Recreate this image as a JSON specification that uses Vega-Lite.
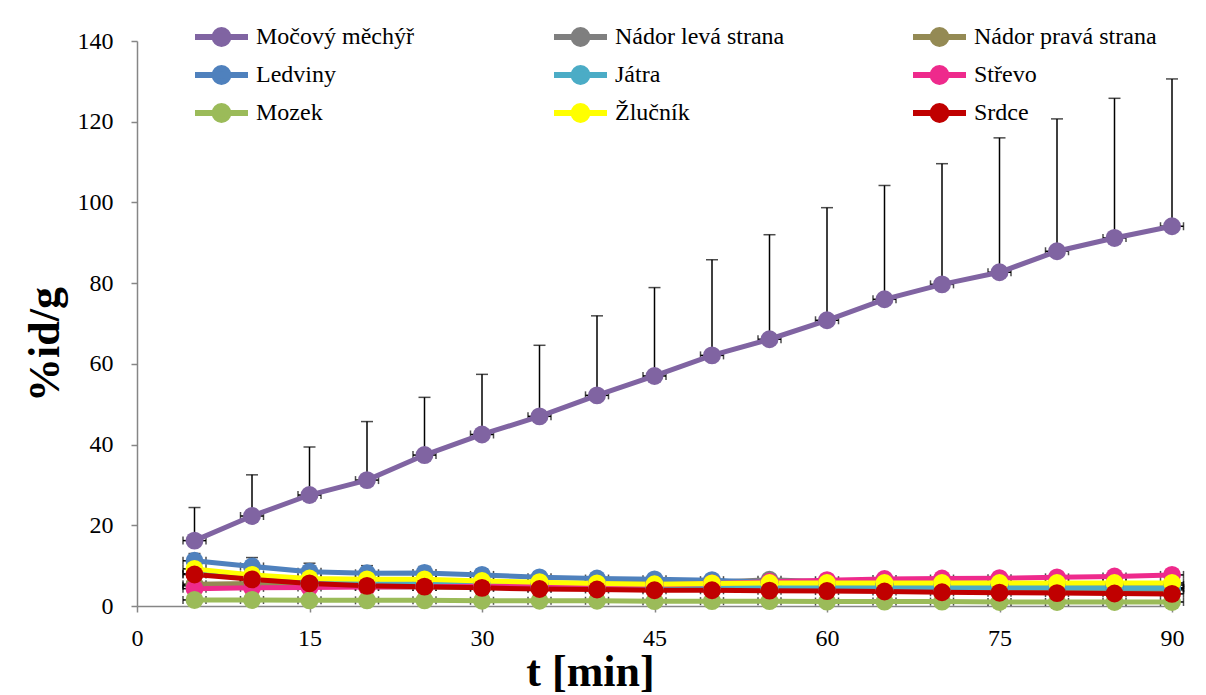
{
"$schema": "https://vega.github.io/schema/vega-lite/v6.json",
"width": 1035, "height": 565,
"autosize": {"type": "none"},
"padding": {"left": 137, "top": 41, "right": 34, "bottom": 89},
"background": "white",
"config": {"view": {"stroke": null}, "font": "Liberation Serif"},
"data": {"values": [
{"s":"Močový měchýř","t":5,"v":16.2,"hi":24.4,"xe":1},{"s":"Močový měchýř","t":10,"v":22.3,"hi":32.5,"xe":1},{"s":"Močový měchýř","t":15,"v":27.5,"hi":39.4,"xe":1},{"s":"Močový měchýř","t":20,"v":31.2,"hi":45.7,"xe":1},{"s":"Močový měchýř","t":25,"v":37.4,"hi":51.7,"xe":1},{"s":"Močový měchýř","t":30,"v":42.5,"hi":57.4,"xe":1},{"s":"Močový měchýř","t":35,"v":47.0,"hi":64.6,"xe":1},{"s":"Močový měchýř","t":40,"v":52.2,"hi":71.9,"xe":1},{"s":"Močový měchýř","t":45,"v":57.0,"hi":78.9,"xe":1},{"s":"Močový měchýř","t":50,"v":62.1,"hi":85.8,"xe":1},{"s":"Močový měchýř","t":55,"v":66.1,"hi":92.0,"xe":1},{"s":"Močový měchýř","t":60,"v":70.8,"hi":98.7,"xe":1},{"s":"Močový měchýř","t":65,"v":76.0,"hi":104.2,"xe":1},{"s":"Močový měchýř","t":70,"v":79.7,"hi":109.6,"xe":1},{"s":"Močový měchýř","t":75,"v":82.7,"hi":116.0,"xe":1},{"s":"Močový měchýř","t":80,"v":87.9,"hi":120.7,"xe":1},{"s":"Močový měchýř","t":85,"v":91.2,"hi":125.8,"xe":1},{"s":"Močový měchýř","t":90,"v":94.1,"hi":130.6,"xe":1},
{"s":"Nádor levá strana","t":5,"v":5.0,"xe":1},{"s":"Nádor levá strana","t":10,"v":5.3,"xe":1},{"s":"Nádor levá strana","t":15,"v":5.3,"xe":1},{"s":"Nádor levá strana","t":20,"v":5.3,"xe":1},{"s":"Nádor levá strana","t":25,"v":5.5,"xe":1},{"s":"Nádor levá strana","t":30,"v":5.5,"xe":1},{"s":"Nádor levá strana","t":35,"v":5.6,"xe":1},{"s":"Nádor levá strana","t":40,"v":5.7,"xe":1},{"s":"Nádor levá strana","t":45,"v":5.8,"xe":1},{"s":"Nádor levá strana","t":50,"v":5.9,"xe":1},{"s":"Nádor levá strana","t":55,"v":6.5,"xe":1},{"s":"Nádor levá strana","t":60,"v":6.0,"xe":1},{"s":"Nádor levá strana","t":65,"v":5.6,"xe":1},{"s":"Nádor levá strana","t":70,"v":5.5,"xe":1},{"s":"Nádor levá strana","t":75,"v":5.4,"xe":1},{"s":"Nádor levá strana","t":80,"v":5.3,"xe":1},{"s":"Nádor levá strana","t":85,"v":5.2,"xe":1},{"s":"Nádor levá strana","t":90,"v":5.2,"xe":1},
{"s":"Nádor pravá strana","t":5,"v":5.4,"xe":1},{"s":"Nádor pravá strana","t":10,"v":5.6,"xe":1},{"s":"Nádor pravá strana","t":15,"v":5.0,"xe":1},{"s":"Nádor pravá strana","t":20,"v":4.8,"xe":1},{"s":"Nádor pravá strana","t":25,"v":4.7,"xe":1},{"s":"Nádor pravá strana","t":30,"v":4.6,"xe":1},{"s":"Nádor pravá strana","t":35,"v":4.5,"xe":1},{"s":"Nádor pravá strana","t":40,"v":4.4,"xe":1},{"s":"Nádor pravá strana","t":45,"v":4.3,"xe":1},{"s":"Nádor pravá strana","t":50,"v":4.3,"xe":1},{"s":"Nádor pravá strana","t":55,"v":4.2,"xe":1},{"s":"Nádor pravá strana","t":60,"v":4.2,"xe":1},{"s":"Nádor pravá strana","t":65,"v":4.1,"xe":1},{"s":"Nádor pravá strana","t":70,"v":4.1,"xe":1},{"s":"Nádor pravá strana","t":75,"v":4.0,"xe":1},{"s":"Nádor pravá strana","t":80,"v":4.0,"xe":1},{"s":"Nádor pravá strana","t":85,"v":4.0,"xe":1},{"s":"Nádor pravá strana","t":90,"v":4.0,"xe":1},
{"s":"Ledviny","t":5,"v":11.2,"hi":13.0,"xe":1},{"s":"Ledviny","t":10,"v":9.8,"hi":12.0,"xe":1},{"s":"Ledviny","t":15,"v":8.5,"hi":10.6,"xe":1},{"s":"Ledviny","t":20,"v":8.1,"hi":10.0,"xe":1},{"s":"Ledviny","t":25,"v":8.2,"hi":9.8,"xe":1},{"s":"Ledviny","t":30,"v":7.7,"hi":9.2,"xe":1},{"s":"Ledviny","t":35,"v":7.1,"hi":8.5,"xe":1},{"s":"Ledviny","t":40,"v":6.8,"hi":8.1,"xe":1},{"s":"Ledviny","t":45,"v":6.6,"hi":7.8,"xe":1},{"s":"Ledviny","t":50,"v":6.4,"hi":7.4,"xe":1},{"s":"Ledviny","t":55,"v":5.8,"hi":7.0,"xe":1},{"s":"Ledviny","t":60,"v":5.5,"hi":6.6,"xe":1},{"s":"Ledviny","t":65,"v":5.3,"hi":6.4,"xe":1},{"s":"Ledviny","t":70,"v":5.1,"hi":6.2,"xe":1},{"s":"Ledviny","t":75,"v":4.9,"hi":6.0,"xe":1},{"s":"Ledviny","t":80,"v":4.7,"hi":5.8,"xe":1},{"s":"Ledviny","t":85,"v":4.6,"hi":5.7,"xe":1},{"s":"Ledviny","t":90,"v":4.5,"hi":5.6,"xe":1},
{"s":"Játra","t":5,"v":8.0,"xe":1},{"s":"Játra","t":10,"v":7.0,"xe":1},{"s":"Játra","t":15,"v":6.1,"xe":1},{"s":"Játra","t":20,"v":5.6,"xe":1},{"s":"Játra","t":25,"v":5.5,"xe":1},{"s":"Játra","t":30,"v":5.2,"xe":1},{"s":"Játra","t":35,"v":5.0,"xe":1},{"s":"Játra","t":40,"v":4.8,"xe":1},{"s":"Játra","t":45,"v":4.7,"xe":1},{"s":"Játra","t":50,"v":4.6,"xe":1},{"s":"Játra","t":55,"v":4.6,"xe":1},{"s":"Játra","t":60,"v":4.5,"xe":1},{"s":"Játra","t":65,"v":4.5,"xe":1},{"s":"Játra","t":70,"v":4.5,"xe":1},{"s":"Játra","t":75,"v":4.5,"xe":1},{"s":"Játra","t":80,"v":4.5,"xe":1},{"s":"Játra","t":85,"v":4.4,"xe":1},{"s":"Játra","t":90,"v":4.4,"xe":1},
{"s":"Střevo","t":5,"v":4.3,"xe":1},{"s":"Střevo","t":10,"v":4.5,"xe":1},{"s":"Střevo","t":15,"v":4.6,"xe":1},{"s":"Střevo","t":20,"v":4.7,"xe":1},{"s":"Střevo","t":25,"v":4.8,"xe":1},{"s":"Střevo","t":30,"v":4.9,"xe":1},{"s":"Střevo","t":35,"v":5.0,"xe":1},{"s":"Střevo","t":40,"v":5.1,"xe":1},{"s":"Střevo","t":45,"v":5.2,"xe":1},{"s":"Střevo","t":50,"v":5.6,"xe":1},{"s":"Střevo","t":55,"v":6.0,"xe":1},{"s":"Střevo","t":60,"v":6.4,"xe":1},{"s":"Střevo","t":65,"v":6.7,"xe":1},{"s":"Střevo","t":70,"v":6.8,"xe":1},{"s":"Střevo","t":75,"v":6.9,"xe":1},{"s":"Střevo","t":80,"v":7.1,"xe":1},{"s":"Střevo","t":85,"v":7.3,"xe":1},{"s":"Střevo","t":90,"v":7.7,"xe":1},
{"s":"Mozek","t":5,"v":1.5,"xe":1},{"s":"Mozek","t":10,"v":1.5,"xe":1},{"s":"Mozek","t":15,"v":1.4,"xe":1},{"s":"Mozek","t":20,"v":1.4,"xe":1},{"s":"Mozek","t":25,"v":1.4,"xe":1},{"s":"Mozek","t":30,"v":1.3,"xe":1},{"s":"Mozek","t":35,"v":1.3,"xe":1},{"s":"Mozek","t":40,"v":1.3,"xe":1},{"s":"Mozek","t":45,"v":1.2,"xe":1},{"s":"Mozek","t":50,"v":1.2,"xe":1},{"s":"Mozek","t":55,"v":1.2,"xe":1},{"s":"Mozek","t":60,"v":1.1,"xe":1},{"s":"Mozek","t":65,"v":1.1,"xe":1},{"s":"Mozek","t":70,"v":1.1,"xe":1},{"s":"Mozek","t":75,"v":1.0,"xe":1},{"s":"Mozek","t":80,"v":1.0,"xe":1},{"s":"Mozek","t":85,"v":1.0,"xe":1},{"s":"Mozek","t":90,"v":1.0,"xe":1},
{"s":"Žlučník","t":5,"v":9.2,"xe":1},{"s":"Žlučník","t":10,"v":7.7,"xe":1},{"s":"Žlučník","t":15,"v":6.8,"xe":1},{"s":"Žlučník","t":20,"v":6.6,"xe":1},{"s":"Žlučník","t":25,"v":6.6,"xe":1},{"s":"Žlučník","t":30,"v":6.2,"xe":1},{"s":"Žlučník","t":35,"v":5.9,"xe":1},{"s":"Žlučník","t":40,"v":5.6,"xe":1},{"s":"Žlučník","t":45,"v":5.4,"xe":1},{"s":"Žlučník","t":50,"v":5.6,"xe":1},{"s":"Žlučník","t":55,"v":5.7,"xe":1},{"s":"Žlučník","t":60,"v":5.7,"xe":1},{"s":"Žlučník","t":65,"v":5.7,"xe":1},{"s":"Žlučník","t":70,"v":5.7,"xe":1},{"s":"Žlučník","t":75,"v":5.7,"xe":1},{"s":"Žlučník","t":80,"v":5.7,"xe":1},{"s":"Žlučník","t":85,"v":5.7,"xe":1},{"s":"Žlučník","t":90,"v":5.7,"xe":1},
{"s":"Srdce","t":5,"v":7.8,"xe":1},{"s":"Srdce","t":10,"v":6.6,"xe":1},{"s":"Srdce","t":15,"v":5.6,"xe":1},{"s":"Srdce","t":20,"v":5.0,"xe":1},{"s":"Srdce","t":25,"v":4.8,"xe":1},{"s":"Srdce","t":30,"v":4.5,"xe":1},{"s":"Srdce","t":35,"v":4.2,"xe":1},{"s":"Srdce","t":40,"v":4.1,"xe":1},{"s":"Srdce","t":45,"v":3.9,"xe":1},{"s":"Srdce","t":50,"v":3.9,"xe":1},{"s":"Srdce","t":55,"v":3.8,"xe":1},{"s":"Srdce","t":60,"v":3.7,"xe":1},{"s":"Srdce","t":65,"v":3.6,"xe":1},{"s":"Srdce","t":70,"v":3.4,"xe":1},{"s":"Srdce","t":75,"v":3.3,"xe":1},{"s":"Srdce","t":80,"v":3.2,"xe":1},{"s":"Srdce","t":85,"v":3.1,"xe":1},{"s":"Srdce","t":90,"v":3.0,"xe":1}
]},
"encoding": {
  "x": {"field": "t", "type": "quantitative", "scale": {"domain": [0, 90], "nice": false, "zero": false},
        "axis": {"values": [0, 15, 30, 45, 60, 75, 90], "grid": false, "title": "t [min]", "labelFlush": false,
                 "labelFont": "Liberation Serif", "labelFontSize": 24, "labelColor": "black", "labelPadding": 14,
                 "titleFont": "Liberation Serif", "titleFontSize": 44, "titleFontWeight": "bold", "titleColor": "black", "titlePadding": 0,
                 "titleX": 453,
                 "domainColor": "#868686", "domainWidth": 1.5, "tickColor": "#868686", "tickSize": 6, "tickWidth": 1.5}},
  "y": {"field": "v", "type": "quantitative", "scale": {"domain": [0, 140], "nice": false},
        "axis": {"values": [0, 20, 40, 60, 80, 100, 120, 140], "grid": false, "title": "%id/g", "labelFlush": false,
                 "labelFont": "Liberation Serif", "labelFontSize": 24, "labelColor": "black", "labelPadding": 18,
                 "titleFont": "Liberation Serif", "titleFontSize": 44, "titleFontWeight": "bold", "titleColor": "black",
                 "titleX": -92, "titleY": 303, "titleBaseline": "middle", "titleAngle": -90,
                 "domainColor": "#868686", "domainWidth": 1.5, "tickColor": "#868686", "tickSize": 6, "tickWidth": 1.5}}
},
"layer": [
  {"transform": [{"filter": "isValid(datum.hi)"}],
   "mark": {"type": "errorbar", "rule": {"color": "black", "strokeWidth": 1.5}, "ticks": {"color": "black", "size": 12, "thickness": 1.5}},
   "encoding": {"y": {"field": "v", "type": "quantitative"}, "y2": {"field": "hi"}}},
  {"mark": {"type": "errorbar", "rule": {"color": "black", "strokeWidth": 1.5}, "ticks": {"color": "black", "size": 8, "thickness": 1.5}},
   "encoding": {"xError": {"field": "xe"}}},
  {"mark": {"type": "line", "strokeWidth": 5},
   "encoding": {"color": {"field": "s", "type": "nominal",
      "scale": {"domain": ["Močový měchýř","Ledviny","Mozek","Nádor levá strana","Játra","Žlučník","Nádor pravá strana","Střevo","Srdce"],
                "range": ["#8064A2","#4F81BD","#9BBB59","#7F7F7F","#4BACC6","#FFFF00","#948A54","#EE2A8C","#C00000"]},
      "legend": {"orient": "none", "legendX": 55, "legendY": -19, "columns": 3, "columnPadding": 112, "rowPadding": 8,
                 "gridAlign": "all", "title": null, "clipHeight": 30,
                 "symbolType": "M-1,0L1,0M-0.26,0a0.26,0.26 0 1,0 0.52,0a0.26,0.26 0 1,0 -0.52,0",
                 "symbolSize": 2809, "symbolStrokeWidth": 6, "labelFont": "Liberation Serif", "labelFontSize": 24,
                 "labelColor": "black", "labelOffset": 5, "labelLimit": 400,
                 "encode": {"symbols": {"update": {"fill": {"scale": "color", "field": "value"}, "stroke": {"scale": "color", "field": "value"}, "strokeWidth": {"value": 6}, "opacity": {"value": 1}}}}}}}},
  {"mark": {"type": "point", "filled": true, "size": 320, "opacity": 1},
   "encoding": {"color": {"field": "s", "type": "nominal"}}}
]
}
